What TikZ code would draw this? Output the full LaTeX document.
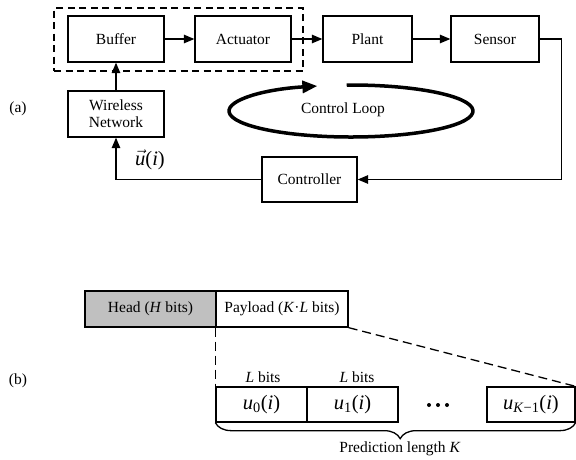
\documentclass[tikz,border=0pt]{standalone}
\usepackage{fontspec}
\setmainfont{Liberation Serif}
\usetikzlibrary{arrows.meta,decorations.pathreplacing}
\definecolor{headgray}{RGB}{192,192,192}
\begin{document}
\begin{tikzpicture}[x=1pt,y=-1pt,
  txt/.style={font=\fontsize{15.5}{18}\selectfont, inner sep=0pt},
  mth/.style={font=\fontsize{20.5}{24}\selectfont, inner sep=0pt},
  box/.style={draw, line width=1.3pt, minimum width=96pt, minimum height=46pt, inner sep=0pt, align=center, txt},
  cell/.style={draw, line width=1.3pt, minimum height=35pt, inner sep=0pt},
  dbox/.style={draw, line width=1.3pt, dash pattern=on 7pt off 4.5pt, minimum width=249pt, minimum height=63pt, inner sep=0pt},
  dline/.style={line width=1.3pt, dash pattern=on 9pt off 5pt},
  arr/.style={line width=1.3pt, -{Triangle[length=10.5pt,width=8.5pt]}},
  loop/.style={line width=3.5pt, -{Triangle[length=15pt,width=12pt]}}]
\useasboundingbox (0,0) rectangle (576,459);

% ---- (a) ----
\node[dbox] (grp) at (178.5,39.5) {};
\node[box] (buf) at (116,39) {Buffer};
\node[box] (act) at (243,39) {Actuator};
\node[box, minimum width=89pt] (plant) at (367.5,39) {Plant};
\node[box, minimum width=88pt] (sens) at (495,39) {Sensor};
\node[box] (wn) at (116,114) {Wireless\\[-1pt]Network};
\node[box, minimum width=95pt, minimum height=45pt] (ctrl) at (309.5,179.5) {Controller};

\draw[arr] (buf) -- (act);
\draw[arr] (act) -- (plant);
\draw[arr] (plant) -- (sens);
\draw[arr] (sens.east) -- ++(22,0) |- (ctrl.east);
\draw[arr] (ctrl.west) -| (wn.south);
\draw[arr] (wn) -- (buf);

\draw[loop] (351,111) ++(268:122 and 26) arc[start angle=268, end angle=614, x radius=122, y radius=26];
\node[txt] (cl) at (343,110) {Control Loop};

\node[txt] (la) at (18,109) {(a)};
\node[mth] (ui) at (150,160) {$\vec{\mathit{u}}$(\textit{i})};

% ---- (b) ----
\node[txt] (lb) at (18,381) {(b)};
\node[cell, txt, fill=headgray, minimum width=131pt, minimum height=36pt] (head) at (150.5,309) {Head (\textit{H} bits)};
\node[cell, txt, minimum width=132pt, minimum height=36pt] (pay) at (282,309) {Payload (\textit{K}·\textit{L} bits)};

\node[cell, mth, minimum width=91pt] (u0) at (261.5,404.5) {\textit{u}\textsubscript{0}(\textit{i})};
\node[cell, mth, minimum width=91pt] (u1) at (352.5,404.5) {\textit{u}\textsubscript{1}(\textit{i})};
\node[cell, mth, minimum width=88pt] (uk) at (531,404.5) {\textit{u}\textsubscript{\textit{K}−1}(\textit{i})};
\fill (429,405) circle (2pt) (438,405) circle (2pt) (447,405) circle (2pt);

\node[txt] (lb0) at (263,377) {\textit{L} bits};
\node[txt] (lb1) at (357,377) {\textit{L} bits};

\draw[dline] (pay.south west) -- (u0.north west);
\draw[dline] (pay.south east) -- (uk.north east);

\draw[line width=1.3pt, decorate, decoration={brace, mirror, amplitude=16pt, aspect=0.513}] (u0.south west) -- (uk.south east);
\node[txt] (pl) at (400,449) {Prediction length \textit{K}};
\end{tikzpicture}
\end{document}
